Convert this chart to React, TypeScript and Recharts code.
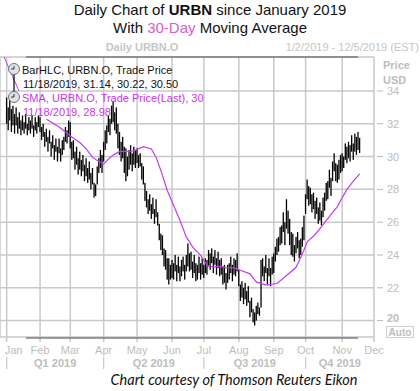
import { ComposedChart, Bar, Line, XAxis, YAxis, CartesianGrid } from "recharts"

// x axis is trading-day index (0 = Jan 2, 2019); months start at these indices
const MONTHS = ["Jan", "Feb", "Mar", "Apr", "May", "Jun", "Jul", "Aug", "Sep", "Oct", "Nov", "Dec"]
const MONTH_START = [0, 21, 40, 61, 82, 104, 124, 146, 168, 188, 211, 231]
const QUARTERS = ["Q1 2019", "Q2 2019", "Q3 2019", "Q4 2019"]
const PRICE_TICKS = [20, 22, 24, 26, 28, 30, 32, 34]
const X_DOMAIN = [-4.2, 231]

const HIGH = [
  // Jan
  33.6, 33.0, 33.8, 32.9, 33.1, 32.6, 33.0, 32.4, 32.7, 32.2, 32.5, 32.1, 32.6, 32.0, 32.4, 32.2, 32.5, 31.9, 32.4, 32.1, 32.5,
  // Feb
  32.4, 31.8, 32.0, 31.5, 31.7, 31.2, 31.6, 30.9, 31.3, 30.7, 31.1, 30.6, 31.1, 30.5, 31.0, 31.2, 31.8, 31.6, 32.2,
  // Mar
  32.1, 30.9, 31.0, 30.3, 30.6, 29.9, 30.3, 29.8, 30.1, 29.5, 29.9, 29.3, 29.7, 29.0, 29.3, 28.4, 28.3, 29.4, 29.9, 30.4, 30.1,
  // Apr
  30.9, 31.6, 31.9, 32.5, 32.3, 33.1, 33.4, 32.7, 33.0, 32.0, 31.5, 30.9, 31.2, 30.6, 30.5, 30.0, 30.4, 30.7, 30.2, 30.6, 30.4,
  // May
  30.5, 30.1, 30.2, 29.6, 29.4, 28.4, 27.9, 27.4, 27.7, 27.1, 27.5, 26.8, 27.4, 26.6, 25.9, 25.3, 25.2, 24.4, 24.3, 23.8, 23.8, 23.4,
  // Jun
  23.7, 23.5, 24.0, 23.4, 23.9, 23.3, 23.7, 23.9, 23.4, 24.0, 24.7, 24.1, 24.2, 23.6, 24.0, 23.5, 23.4, 23.9, 23.5, 23.8,
  // Jul
  23.4, 23.8, 23.7, 24.3, 24.1, 24.4, 23.9, 24.3, 23.8, 24.2, 23.7, 23.8, 23.3, 23.4, 22.9, 23.4, 23.5, 23.9, 23.4, 23.8, 23.7, 24.1,
  // Aug
  23.1, 22.2, 22.4, 22.0, 22.3, 21.8, 22.1, 21.2, 21.4, 20.7, 20.5, 20.9, 21.1, 20.8, 23.7, 23.8, 23.3, 24.0, 23.2, 23.8, 23.2, 23.9,
  // Sep
  24.1, 24.5, 25.0, 25.1, 25.7, 25.8, 26.6, 26.0, 27.4, 26.7, 26.2, 25.4, 25.3, 24.6, 25.1, 25.4, 24.9, 25.0, 25.7, 26.4,
  // Oct
  27.7, 28.6, 28.2, 28.1, 27.7, 27.8, 27.3, 27.5, 26.9, 27.2, 26.7, 27.5, 27.8, 28.4, 28.5, 29.2, 28.7, 29.7, 30.2, 29.6, 29.5, 29.8, 30.1,
  // Nov (to 11/18)
  30.2, 30.0, 30.8, 30.6, 30.9, 30.7, 31.3, 30.8, 31.4, 31.2, 31.5, 31.14,
]

const LOW = [
  // Jan
  32.0, 31.6, 32.2, 31.5, 31.9, 31.4, 31.9, 31.4, 31.7, 31.3, 31.6, 31.4, 31.7, 31.3, 31.6, 31.4, 31.7, 31.2, 31.6, 31.4, 31.8,
  // Feb
  31.5, 31.0, 31.2, 30.6, 30.9, 30.3, 30.8, 30.0, 30.5, 29.8, 30.3, 29.7, 30.2, 29.7, 30.1, 30.4, 30.9, 30.8, 31.2,
  // Mar
  30.5, 29.8, 29.9, 29.2, 29.5, 28.9, 29.2, 28.8, 29.1, 28.5, 28.8, 28.4, 28.6, 28.0, 28.3, 27.5, 27.6, 28.3, 29.0, 29.3, 29.0,
  // Apr
  29.7, 30.4, 30.8, 31.5, 31.3, 32.0, 32.1, 31.6, 31.4, 30.5, 30.1, 29.7, 29.9, 29.0, 28.5, 28.8, 29.2, 29.5, 29.1, 29.5, 29.3,
  // May
  29.6, 29.3, 29.4, 28.6, 28.3, 27.3, 26.9, 26.5, 26.7, 26.2, 26.5, 25.9, 26.3, 25.8, 24.9, 24.3, 24.0, 23.3, 23.1, 22.5, 22.2, 22.5,
  // Jun
  22.6, 22.5, 23.0, 22.4, 22.9, 22.4, 22.7, 23.0, 22.5, 23.0, 23.3, 23.0, 23.1, 22.6, 22.9, 22.4, 22.5, 22.9, 22.5, 22.8,
  // Jul
  22.6, 22.9, 22.8, 23.3, 23.1, 23.5, 22.9, 23.4, 22.8, 23.2, 22.7, 22.8, 22.2, 22.3, 21.9, 22.3, 22.5, 22.9, 22.4, 22.8, 22.7, 23.0,
  // Aug
  22.1, 21.2, 21.4, 21.0, 21.3, 20.9, 21.1, 20.2, 20.5, 19.9, 19.7, 20.0, 20.4, 20.3, 20.8, 22.7, 22.4, 22.9, 22.2, 22.7, 22.1, 22.8,
  // Sep
  22.9, 23.6, 24.0, 24.2, 24.6, 24.7, 25.4, 24.6, 25.6, 25.3, 24.6, 24.0, 23.9, 23.6, 24.1, 24.4, 23.8, 24.0, 24.5, 24.9,
  // Oct
  26.5, 27.4, 27.0, 27.1, 26.6, 26.8, 26.2, 26.5, 25.9, 26.1, 25.8, 26.3, 26.7, 27.3, 27.4, 28.1, 27.6, 28.5, 29.1, 28.5, 28.4, 28.6, 29.0,
  // Nov (to 11/18)
  29.1, 29.3, 29.8, 29.6, 29.9, 29.7, 30.3, 29.8, 30.3, 30.1, 30.4, 30.22,
]

// 30-day SMA at these bar indices
const SMA_AT = [25, 33, 40, 46, 50, 54, 59, 61, 65, 68, 71, 80, 86, 91, 94, 97, 101, 105, 109, 113, 117, 122, 126, 130, 134, 138, 143, 147, 153, 157, 163, 170, 176, 182, 186, 189, 194, 199, 205, 208, 211, 214, 218, 222]
const SMA = [32.28, 31.8, 31.26, 30.86, 30.47, 29.95, 29.64, 29.54, 29.95, 30.15, 30.3, 30.35, 30.6, 30.46, 29.95, 29.14, 27.93, 27.02, 26.1, 25.09, 24.48, 23.98, 23.37, 23.27, 23.31, 23.23, 23.21, 23.07, 22.85, 22.36, 22.16, 22.26, 22.75, 23.25, 24.08, 24.8, 25.25, 25.85, 26.6, 26.95, 27.5, 28.0, 28.5, 28.95]

const W = 420
const H = 391
const TOP = 57
const BOTTOM = 337
const RIGHT = 374
const PX = RIGHT / (X_DOMAIN[1] - X_DOMAIN[0])
const GRID = "#c9c9c9"
const LABEL = "#bdbdbd"
const SANS = "'Liberation Sans', Arial, sans-serif"

const data = HIGH.map((h, i) => ({ i, hl: [LOW[i], h] as [number, number], sma: null as number | null }))
SMA_AT.forEach((idx, k) => {
  if (data[idx]) data[idx].sma = SMA[k]
})

function HLCBar(props: any) {
  const { x, y, width, height } = props
  if (x == null || y == null) return null
  return <rect x={x + width / 2 - 0.65} y={y} width={1.3} height={Math.max(Math.abs(height), 1)} fill="#000" />
}

function MonthTick(props: any) {
  const { x, payload } = props
  const m = MONTH_START.indexOf(payload.value)
  const quarterStart = m % 3 === 0 && m < 12
  let qx = 0
  if (quarterStart) {
    const next = m + 3 < MONTH_START.length ? MONTH_START[m + 3] : X_DOMAIN[1]
    qx = x + ((Math.min(next, X_DOMAIN[1]) - MONTH_START[m]) * PX) / 2
  }
  return (
    <g>
      <line x1={x} x2={x} y1={BOTTOM} y2={342} stroke={GRID} strokeWidth={1.5} />
      <text x={m === 0 ? x - 2 : x} y={354} textAnchor={m === 0 ? "start" : "middle"} fill={LABEL} fontSize={11} fontFamily={SANS}>
        {MONTHS[m]}
      </text>
      {quarterStart ? (
        <>
          <line x1={x} x2={x} y1={357} y2={369} stroke={GRID} strokeWidth={1.2} />
          <text x={qx} y={367} textAnchor="middle" fill={LABEL} fontSize={11} fontWeight="bold" fontFamily={SANS}>
            {QUARTERS[m / 3]}
          </text>
        </>
      ) : null}
    </g>
  )
}

function PriceTick(props: any) {
  const { y, payload } = props
  const low = payload.value === 20
  return (
    <g>
      <line x1={RIGHT + 3} x2={RIGHT + 9} y1={y} y2={y} stroke={LABEL} strokeWidth={1} />
      <text x={RIGHT + 13} y={low ? y - 3 : y} dy={4} fill={LABEL} fontSize={11} fontWeight={low ? "bold" : "normal"} fontFamily={SANS}>
        {payload.value}
      </text>
    </g>
  )
}

function Clock({ cx, cy }: { cx: number; cy: number }) {
  return (
    <g>
      <circle cx={cx} cy={cy} r={5.5} fill="#dfe3e8" stroke="#6b7580" strokeWidth={1} />
      <line x1={cx} y1={cy} x2={cx - 3} y2={cy} stroke="#333" strokeWidth={1} />
      <line x1={cx} y1={cy} x2={cx} y2={cy - 3} stroke="#333" strokeWidth={1} />
    </g>
  )
}

export default function App() {
  return (
    <div style={{ position: "absolute", left: 0, top: 0, width: W, height: H, background: "#fff" }}>
      <ComposedChart width={W} height={H} data={data} margin={{ top: TOP, right: 0, left: 0, bottom: 0 }}>
        <CartesianGrid stroke={GRID} strokeWidth={1.5} />
        <XAxis
          dataKey="i"
          type="number"
          domain={X_DOMAIN}
          ticks={MONTH_START}
          interval={0}
          tick={<MonthTick />}
          tickLine={false}
          axisLine={false}
          height={H - BOTTOM}
          allowDataOverflow
        />
        <YAxis
          orientation="right"
          type="number"
          domain={[19, 36.07]}
          ticks={PRICE_TICKS}
          interval={0}
          width={W - RIGHT}
          tick={<PriceTick />}
          tickLine={false}
          axisLine={false}
          allowDataOverflow
        />
        <Bar dataKey="hl" barSize={2} shape={<HLCBar />} isAnimationActive={false} />
        <Line
          type="linear"
          dataKey="sma"
          stroke="#c43cf0"
          strokeWidth={1.2}
          dot={false}
          connectNulls
          isAnimationActive={false}
        />
      </ComposedChart>

      <svg width={W} height={H} style={{ position: "absolute", left: 0, top: 0, pointerEvents: "none" }}>
        <text x={210} y={15} textAnchor="middle" fontFamily={SANS} fontSize={15} fill="#111">
          Daily Chart of <tspan fontWeight="bold">URBN</tspan> since January 2019
        </text>
        <text x={210} y={33} textAnchor="middle" fontFamily={SANS} fontSize={15} fill="#111">
          With <tspan fill="#d660cc">30-Day</tspan> Moving Average
        </text>

        <text x={142} y={51} textAnchor="middle" fontFamily={SANS} fontSize={11} fontWeight="bold" fill="#c6c6c6">
          Daily URBN.O
        </text>
        <text x={419} y={51} textAnchor="end" fontFamily={SANS} fontSize={11} fill="#c6c6c6">
          1/2/2019 - 12/5/2019 (EST)
        </text>

        <line x1={26} x2={358} y1={TOP} y2={TOP} stroke="#4a4a4a" strokeWidth={1.2} />
        <line x1={26} x2={358} y1={BOTTOM + 1} y2={BOTTOM + 1} stroke="#4a4a4a" strokeWidth={1.2} />

        <text x={383} y={69} fontFamily={SANS} fontSize={11} fontWeight="bold" fill={LABEL}>Price</text>
        <text x={383} y={84} fontFamily={SANS} fontSize={11} fontWeight="bold" fill={LABEL}>USD</text>
        <rect x={386.5} y={326.5} width={27} height={11} fill="#fff" stroke="#cfcfcf" />
        <text x={400} y={335.5} textAnchor="middle" fontFamily={SANS} fontSize={10} fontWeight="bold" fill={LABEL}>Auto</text>

        <line x1={4} y1={57} x2={19} y2={91} stroke="#c43cf0" strokeWidth={1} />
        <line x1={14} y1={75} x2={14} y2={92} stroke="#000" strokeWidth={1.2} />
        <Clock cx={14} cy={69} />
        <Clock cx={14} cy={97} />
        <g fontFamily={SANS} fontSize={11}>
          <text x={22} y={74} fill="#111">BarHLC, URBN.O, Trade Price</text>
          <text x={23} y={88} fill="#111">11/18/2019, 31.14, 30.22, 30.50</text>
          <text x={22} y={102} fill="#cc33ee">SMA, URBN.O, Trade Price(Last), 30</text>
          <text x={23} y={116} fill="#cc33ee">11/18/2019, 28.98</text>
        </g>

        <text x={234} y={385} textAnchor="middle" fontFamily="Lato, 'Open Sans', sans-serif" fontStyle="italic" fontSize={14.5} fill="#111">
          Chart courtesy of Thomson Reuters Eikon
        </text>
      </svg>
    </div>
  )
}
